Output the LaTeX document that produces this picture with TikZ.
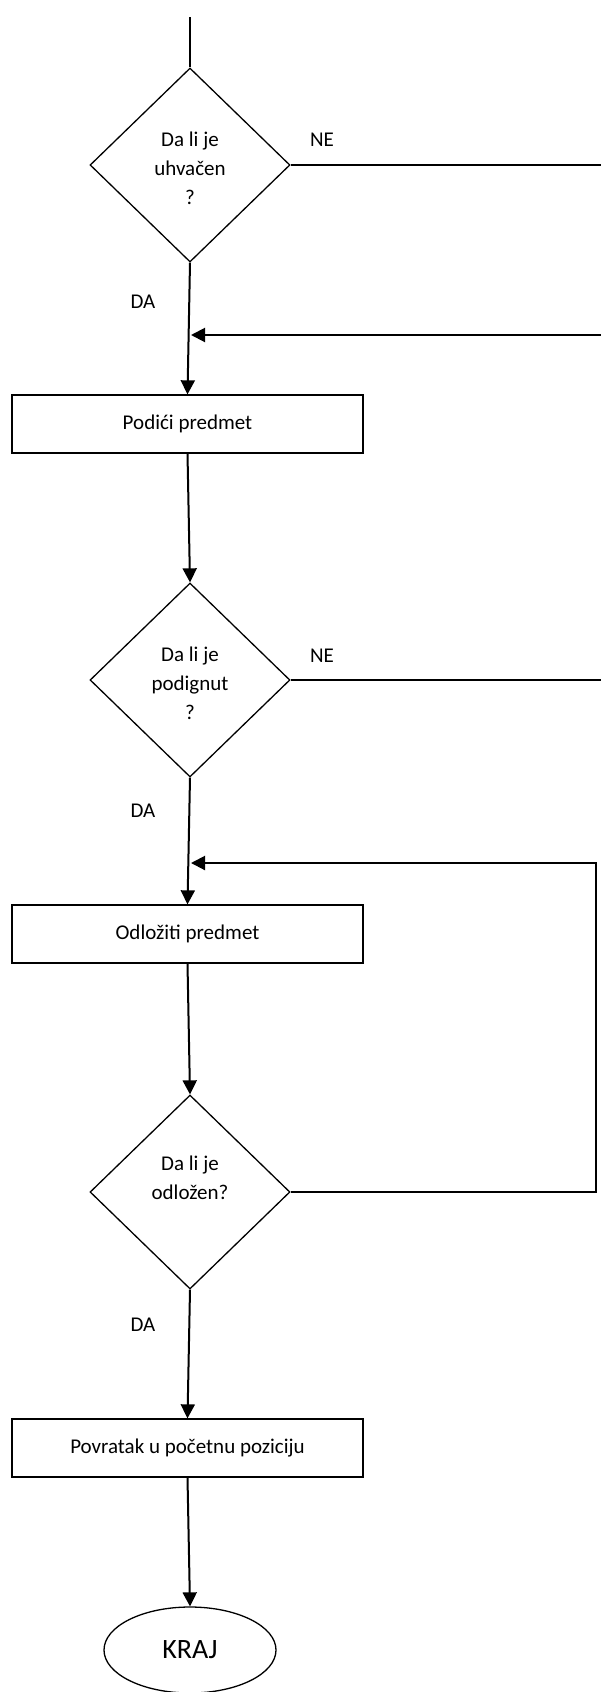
\documentclass[tikz,border=0pt]{standalone}
\usepackage{fontspec}
\setmainfont{Carlito}
\usetikzlibrary{arrows.meta,shapes.geometric}
\begin{document}
\begin{tikzpicture}[x=1pt,y=-1pt,
  shapeline/.style={draw=black,line width=1.3pt},
  dec/.style={shapeline,diamond,minimum width=200pt,minimum height=194pt,inner sep=0pt},
  proc/.style={shapeline,rectangle,minimum width=351pt,minimum height=58pt,inner sep=0pt},
  txt/.style={font=\fontsize{21}{29}\selectfont,align=center,inner sep=0pt},
  conn/.style={line width=2pt},
  arr/.style={conn,-{Triangle[length=14pt,width=14pt]}},
]
\useasboundingbox (0,0) rectangle (601,1692);
\fill[white] (0,0) rectangle (601,1692);

% nodes
\coordinate (start) at (190,17);
\node[dec] (d1) at (190,165) {};
\node[txt] (t1) at (190,168) {Da li je\\uhvačen\\?};
\node[txt] (ne1) at (322,140) {NE};
\coordinate (ne1end) at (601,165);
\node[txt] (da1) at (143,302) {DA};
\coordinate (in1) at (601,335);
\coordinate (j1) at (191,335);
\node[proc,txt] (b1) at (187.5,424) {Podići predmet};

\node[dec] (d2) at (190,680) {};
\node[txt] (t2) at (190,683) {Da li je\\podignut\\?};
\node[txt] (ne2) at (322,656) {NE};
\coordinate (ne2end) at (601,680);
\node[txt] (da2) at (143,811) {DA};
\coordinate (j2) at (191,863);
\node[proc,txt] (b2) at (187.5,934) {Odložiti predmet};

\node[dec] (d3) at (190,1192) {};
\node[txt] (t3) at (190,1178) {Da li je\\odložen?};
\coordinate (c3) at (596,1192);
\coordinate (c4) at (596,863);
\node[txt] (da3) at (143,1325) {DA};
\node[proc,txt] (b3) at (187.5,1448) {Povratak u početnu poziciju};

\node[shapeline,ellipse,minimum width=172pt,minimum height=86pt,inner sep=0pt,font=\fontsize{28}{34}\selectfont] (kraj) at (190,1650) {KRAJ};

% connectors
\draw[conn] (start) -- (d1.north);
\draw[conn] (d1.east) -- (ne1end);
\draw[arr] (d1.south) -- (b1.north);
\draw[arr] (in1) -- (j1);
\draw[arr] (b1.south) -- (d2.north);
\draw[conn] (d2.east) -- (ne2end);
\draw[arr] (d2.south) -- (b2.north);
\draw[arr] (b2.south) -- (d3.north);
\draw[arr] (d3.east) -- (c3) -- (c4) -- (j2);
\draw[arr] (d3.south) -- (b3.north);
\draw[arr] (b3.south) -- (kraj.north);
\end{tikzpicture}
\end{document}
